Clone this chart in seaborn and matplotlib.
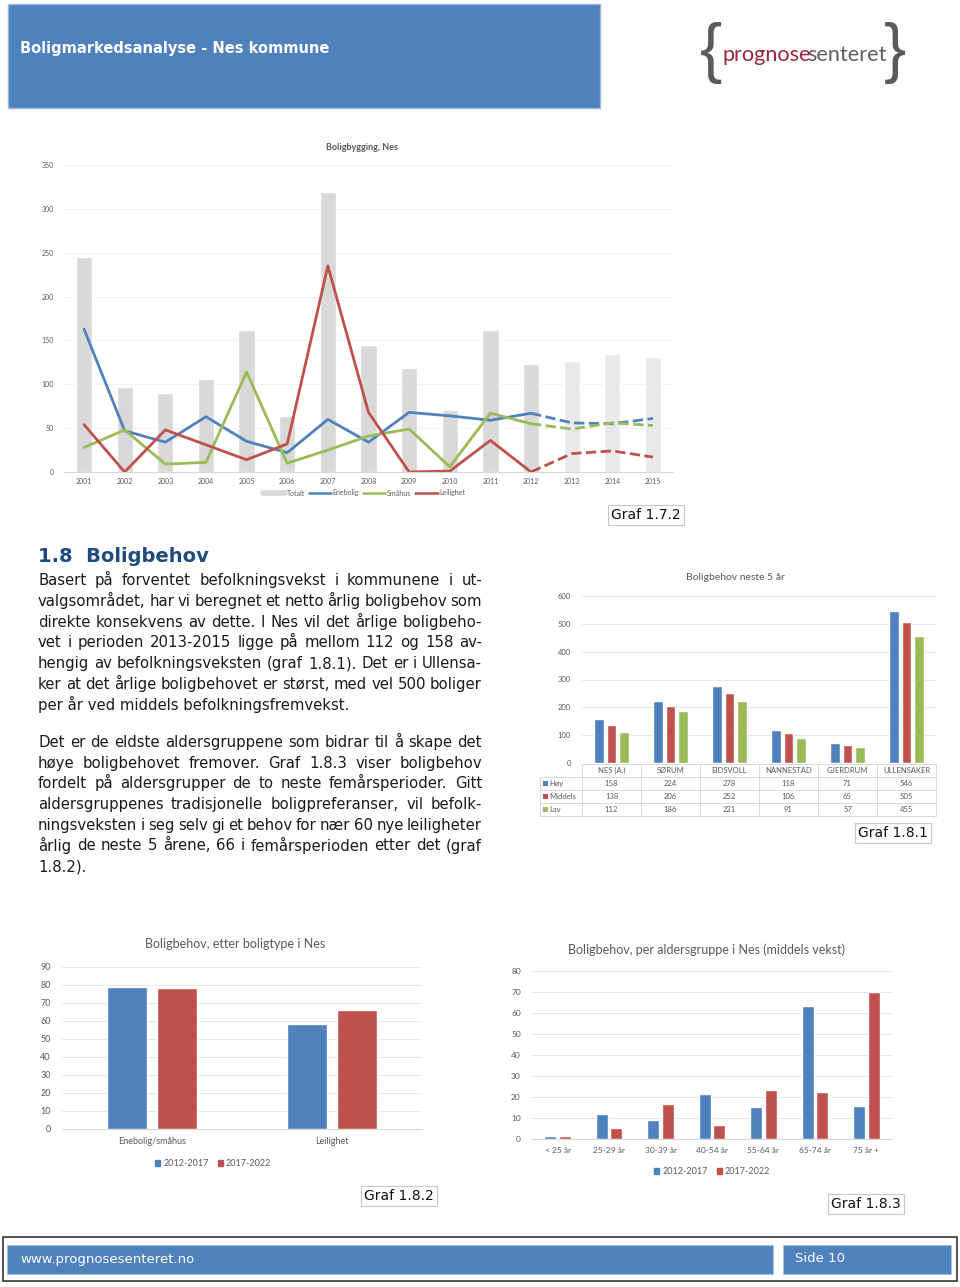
import matplotlib
matplotlib.use("Agg")
import pandas as pd
import matplotlib.pyplot as plt
import seaborn as sns
from matplotlib.lines import Line2D
from matplotlib.patches import Rectangle, Patch

# -------------------------------
# Data
# -------------------------------
years = [str(y) for y in range(2001, 2016)]
totalt = [245, 97, 90, 106, 162, 64, 319, 145, 119, 71, 162, 123, 126, 135, 131]
enebolig = [163, 47, 34, 63, 35, 22, 60, 34, 68, 64, 59, 67, 56, 55, 61]
smahus = [28, 48, 9, 11, 114, 10, 25, 41, 49, 6, 67, 55, 49, 56, 53]
leilighet = [54, 0, 48, 31, 14, 32, 235, 68, 0, 1, 36, 0, 21, 24, 17]
last_actual = "2012"

kommuner = ["NES (A.)", "SØRUM", "EIDSVOLL", "NANNESTAD", "GJERDRUM", "ULLENSAKER"]
scenarier = ["Høy", "Middels", "Lav"]
hoy = [158, 224, 278, 118, 71, 546]
middels = [138, 206, 252, 106, 65, 505]
lav = [112, 186, 221, 91, 57, 455]

boligtyper = ["Enebolig/småhus", "Leilighet"]
perioder = ["2012-2017", "2017-2022"]
type_2012 = [79, 58.5]
type_2017 = [78.5, 66]

aldersgrupper = ["< 25 år", "25-29 år", "30-39 år", "40-54 år", "55-64 år", "65-74 år", "75 år +"]
alder_2012 = [1.4, 11.8, 9.1, 21.6, 15.4, 63.3, 15.9]
alder_2017 = [1.6, 5.4, 16.7, 6.7, 23.2, 22.3, 69.8]

avsnitt1 = [
    "Basert på forventet befolkningsvekst i kommunene i ut-",
    "valgsområdet, har vi beregnet et netto årlig boligbehov som",
    "direkte konsekvens av dette. I Nes vil det årlige boligbeho-",
    "vet i perioden 2013-2015 ligge på mellom 112 og 158 av-",
    "hengig av befolkningsveksten (graf 1.8.1). Det er i Ullensa-",
    "ker at det årlige boligbehovet er størst, med vel 500 boliger",
    "per år ved middels befolkningsfremvekst.",
]
avsnitt2 = [
    "Det er de eldste aldersgruppene som bidrar til å skape det",
    "høye boligbehovet fremover. Graf 1.8.3 viser boligbehov",
    "fordelt på aldersgrupper de to neste femårsperioder. Gitt",
    "aldersgruppenes tradisjonelle boligpreferanser, vil befolk-",
    "ningsveksten i seg selv gi et behov for nær 60 nye leiligheter",
    "årlig de neste 5 årene, 66 i femårsperioden etter det (graf",
    "1.8.2).",
]

BLUE, RED, GREEN = "#4f81bd", "#c0504d", "#9bbb59"
GREY_TXT = "#595959"
CHART_FONT = "Lato"

# -------------------------------
# Page setup
# -------------------------------
sns.set_theme(style="white")
plt.rcParams["font.family"] = ["DejaVu Sans"]

W, H = 960, 1287
fig = plt.figure(figsize=(9.6, 12.87), dpi=100)
renderer = fig.canvas.get_renderer()


def fx(x):
    return x / W


def fy(y):
    return 1 - y / H


def box(x0, y0, x1, y1):
    return [fx(x0), fy(y1), (x1 - x0) / W, (y1 - y0) / H]


def rect(x0, y0, x1, y1, **kw):
    fig.add_artist(Rectangle((fx(x0), fy(y1)), (x1 - x0) / W, (y1 - y0) / H,
                             transform=fig.transFigure, **kw))


def hline(x0, x1, y, **kw):
    fig.add_artist(Line2D([fx(x0), fx(x1)], [fy(y), fy(y)], transform=fig.transFigure, **kw))


def vline(x, y0, y1, **kw):
    fig.add_artist(Line2D([fx(x), fx(x)], [fy(y0), fy(y1)], transform=fig.transFigure, **kw))


def justify(lines, x0, x1, base0, step, size):
    for i, line in enumerate(lines):
        yb = base0 + i * step
        words = line.split(" ")
        if i == len(lines) - 1:
            fig.text(fx(x0), fy(yb), line, fontsize=size, color="#1a1a1a", va="baseline")
            continue
        objs = [fig.text(0, fy(yb), w, fontsize=size, color="#1a1a1a", va="baseline") for w in words]
        widths = [o.get_window_extent(renderer).width for o in objs]
        gap = (x1 - x0 - sum(widths)) / (len(words) - 1)
        x = x0
        for o, w in zip(objs, widths):
            o.set_x(fx(x))
            x += w + gap


def style_axes(ax, size):
    sns.despine(ax=ax, left=True)
    ax.spines["bottom"].set_color("#d9d9d9")
    ax.spines["bottom"].set_linewidth(0.8)
    ax.grid(axis="y", color="#e8e8e8", lw=0.7)
    ax.set_axisbelow(True)
    ax.tick_params(length=0, labelsize=size, colors=GREY_TXT)
    for lab in ax.get_xticklabels() + ax.get_yticklabels():
        lab.set_family(CHART_FONT)
    ax.set_xlabel("")
    ax.set_ylabel("")


def graf_label(x, y, txt):
    fig.text(fx(x), fy(y), txt, fontsize=10, ha="center", va="center", color="#111111",
             bbox=dict(boxstyle="square,pad=0.22", fc="white", ec="#c8c8c8", lw=0.8))


# -------------------------------
# Header and logo
# -------------------------------
rect(8, 4, 600, 108, facecolor=BLUE, edgecolor="#9cb8dc", lw=1)
fig.text(fx(20), fy(48), "Boligmarkedsanalyse - Nes kommune", color="white",
         fontsize=10.5, fontweight="bold", va="center")

fig.text(fx(711), fy(53), "{", fontsize=48, color="#5a5a5a", ha="center", va="center",
         family="Liberation Sans")
fig.text(fx(895), fy(53), "}", fontsize=48, color="#5a5a5a", ha="center", va="center",
         family="Liberation Sans")
t1 = fig.text(fx(722), fy(61), "prognose", fontsize=15.6, color="#9e2440", va="baseline",
              family=CHART_FONT)
w1 = t1.get_window_extent(renderer).width
fig.text(fx(722 + w1 - 3), fy(61), "senteret", fontsize=15.6, color="#5f5f5f", va="baseline",
         family=CHART_FONT)

# -------------------------------
# Graf 1.7.2 - Boligbygging, Nes
# -------------------------------
ax1 = fig.add_axes(box(63.7, 165, 673.3, 472))
bar_cols = ["#d9d9d9" if int(y) <= int(last_actual) else "#e9e9e9" for y in years]
sns.barplot(x=years, y=totalt, hue=years, palette=bar_cols, legend=False,
            width=0.4, saturation=1, ax=ax1)
idx = list(range(len(years)))
cut = years.index(last_actual)
for serie, col in [(enebolig, BLUE), (smahus, GREEN), (leilighet, RED)]:
    sns.lineplot(x=idx[:cut + 1], y=serie[:cut + 1], color=col, lw=2, ax=ax1)
    sns.lineplot(x=idx[cut:], y=serie[cut:], color=col, lw=2, ls="--", ax=ax1)
ax1.set_ylim(0, 350)
ax1.set_yticks(range(0, 351, 50))
ax1.set_xlim(-0.5, len(years) - 0.5)
style_axes(ax1, 5)
ax1.grid(axis="y", color="#f0f0f0", lw=0.6)
ax1.tick_params(axis="y", pad=7)
ax1.tick_params(axis="x", pad=4)
fig.text(fx(362), fy(147), "Boligbygging, Nes", fontsize=6.5, color=GREY_TXT,
         ha="center", va="center", family=CHART_FONT, fontweight="bold")
h1 = [Line2D([], [], color="#d9d9d9", lw=4), Line2D([], [], color=BLUE, lw=1.8),
      Line2D([], [], color=GREEN, lw=1.8), Line2D([], [], color=RED, lw=1.8)]
fig.legend(h1, ["Totalt", "Enebolig", "Småhus", "Leilighet"], loc="center",
           bbox_to_anchor=(fx(364), fy(493)), ncol=4, frameon=False,
           prop={"family": CHART_FONT, "size": 5}, labelcolor=GREY_TXT,
           handlelength=3.2, handletextpad=0.2, columnspacing=0.6)
graf_label(646, 515, "Graf 1.7.2")

# -------------------------------
# Text
# -------------------------------
fig.text(fx(38), fy(562), "1.8  Boligbehov", fontsize=14, fontweight="bold",
         color="#1f4a7e", va="baseline")
justify(avsnitt1, 38, 482, 585, 20.8, 10.7)
justify(avsnitt2, 38, 482, 747, 20.7, 10.7)

# -------------------------------
# Graf 1.8.1 - Boligbehov neste 5 år
# -------------------------------
df5 = pd.DataFrame({
    "kommune": kommuner * 3,
    "scenario": sum([[s] * len(kommuner) for s in scenarier], []),
    "boliger": hoy + middels + lav,
})
ax2 = fig.add_axes(box(582, 596, 936, 763))
sns.barplot(data=df5, x="kommune", y="boliger", hue="scenario", hue_order=scenarier,
            palette=[BLUE, RED, GREEN], width=0.66, gap=0.23, saturation=1,
            legend=False, ax=ax2)
ax2.set_ylim(0, 600)
ax2.set_yticks(range(0, 601, 100))
ax2.set_xlim(-0.5, 5.5)
style_axes(ax2, 5.5)
ax2.set_xticks([])
ax2.spines["bottom"].set_visible(False)
ax2.tick_params(axis="y", pad=8)
fig.text(fx(735), fy(577), "Boligbehov neste 5 år", fontsize=7.5, color=GREY_TXT,
         ha="center", va="center", family=CHART_FONT)

cols = [582 + i * (936 - 582) / 6 for i in range(7)]
rows = [764, 777, 790, 803, 816]
lc = dict(color="#d9d9d9", lw=0.7)
hline(582, 936, rows[0], **lc)
for r in rows[1:]:
    hline(540, 936, r, **lc)
for c in cols:
    vline(c, rows[0], rows[-1], **lc)
vline(540, rows[1], rows[-1], **lc)
tk = dict(fontsize=5.5, color=GREY_TXT, va="center", family=CHART_FONT)
for i, k in enumerate(kommuner):
    cx = (cols[i] + cols[i + 1]) / 2
    fig.text(fx(cx), fy((rows[0] + rows[1]) / 2), k, ha="center", **tk)
    for j, serie in enumerate([hoy, middels, lav]):
        fig.text(fx(cx), fy((rows[j + 1] + rows[j + 2]) / 2), str(serie[i]), ha="center", **tk)
for j, (s, col) in enumerate(zip(scenarier, [BLUE, RED, GREEN])):
    cy = (rows[j + 1] + rows[j + 2]) / 2
    rect(542.5, cy - 2.5, 547.5, cy + 2.5, facecolor=col, edgecolor="none")
    fig.text(fx(549), fy(cy), s, ha="left", **tk)
graf_label(893, 833, "Graf 1.8.1")

# -------------------------------
# Graf 1.8.2 - Boligbehov, etter boligtype i Nes
# -------------------------------
dft = pd.DataFrame({
    "type": boligtyper * 2,
    "periode": [perioder[0]] * 2 + [perioder[1]] * 2,
    "behov": type_2012 + type_2017,
})
ax3 = fig.add_axes(box(62, 967, 422, 1129))
sns.barplot(data=dft, x="type", y="behov", hue="periode", hue_order=perioder,
            palette=[BLUE, RED], width=0.55, gap=0.2, saturation=1, legend=False, ax=ax3)
ax3.set_ylim(0, 90)
ax3.set_yticks(range(0, 91, 10))
style_axes(ax3, 6.5)
ax3.tick_params(axis="y", pad=8)
ax3.tick_params(axis="x", pad=6)
fig.text(fx(235), fy(944), "Boligbehov, etter boligtype i Nes", fontsize=9, color=GREY_TXT,
         ha="center", va="center", family=CHART_FONT)
hp = [Patch(color=BLUE), Patch(color=RED)]
fig.legend(hp, perioder, loc="center", bbox_to_anchor=(fx(213), fy(1164)), ncol=2,
           frameon=False, prop={"family": CHART_FONT, "size": 6.5}, labelcolor=GREY_TXT,
           handlelength=0.6, handleheight=0.6, handletextpad=0.3, columnspacing=1.0)
graf_label(399, 1196, "Graf 1.8.2")

# -------------------------------
# Graf 1.8.3 - Boligbehov per aldersgruppe
# -------------------------------
dfa = pd.DataFrame({
    "alder": aldersgrupper * 2,
    "periode": [perioder[0]] * len(aldersgrupper) + [perioder[1]] * len(aldersgrupper),
    "behov": alder_2012 + alder_2017,
})
ax4 = fig.add_axes(box(532, 971, 892, 1139))
sns.barplot(data=dfa, x="alder", y="behov", hue="periode", hue_order=perioder,
            palette=[BLUE, RED], width=0.57, gap=0.18, saturation=1, legend=False, ax=ax4)
ax4.set_ylim(0, 80)
ax4.set_yticks(range(0, 81, 10))
style_axes(ax4, 6)
ax4.tick_params(axis="y", pad=8)
ax4.tick_params(axis="x", pad=6)
fig.text(fx(706), fy(950), "Boligbehov, per aldersgruppe i Nes (middels vekst)", fontsize=9,
         color=GREY_TXT, ha="center", va="center", family=CHART_FONT)
fig.legend(hp, perioder, loc="center", bbox_to_anchor=(fx(712), fy(1172)), ncol=2,
           frameon=False, prop={"family": CHART_FONT, "size": 6.5}, labelcolor=GREY_TXT,
           handlelength=0.6, handleheight=0.6, handletextpad=0.3, columnspacing=1.0)
graf_label(866, 1204, "Graf 1.8.3")

# -------------------------------
# Footer
# -------------------------------
rect(3, 1237, 957, 1281, facecolor="none", edgecolor="#333333", lw=1.2)
rect(7, 1245, 773, 1274, facecolor=BLUE, edgecolor="#a8c0df", lw=0.8)
rect(783, 1245, 951, 1274, facecolor=BLUE, edgecolor="#a8c0df", lw=0.8)
fig.text(fx(20), fy(1259), "www.prognosesenteret.no", color="white", fontsize=9.5, va="center")
fig.text(fx(795), fy(1259), "Side 10", color="white", fontsize=9.5, va="center")

fig.savefig("out.png", dpi=100, facecolor="white")
